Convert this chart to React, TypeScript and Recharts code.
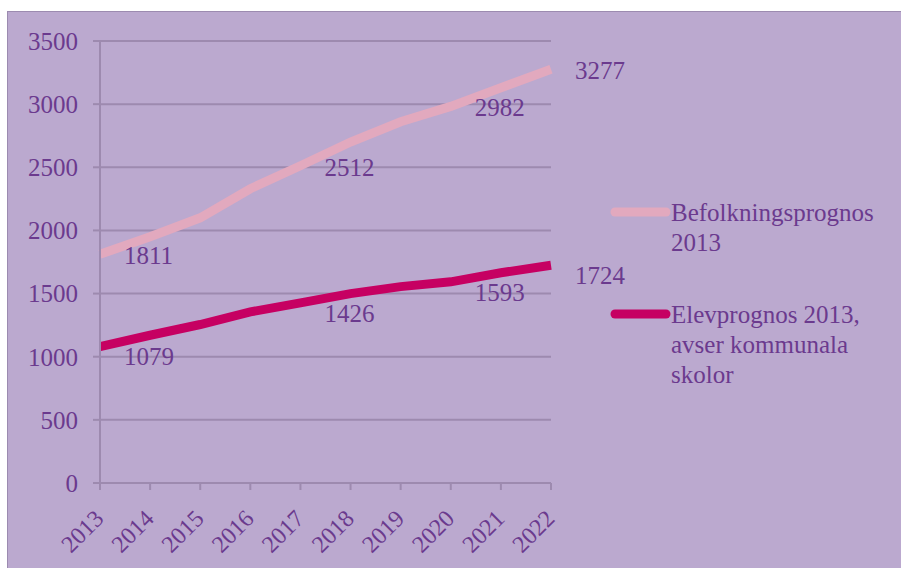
import React from 'react';
import { LineChart, Line, XAxis, YAxis, CartesianGrid } from 'recharts';

const years = ['2013', '2014', '2015', '2016', '2017', '2018', '2019', '2020', '2021', '2022'];
const befolkning = [1811, 1950, 2100, 2330, 2512, 2700, 2860, 2982, 3130, 3277];
const elev = [1079, 1170, 1255, 1355, 1426, 1500, 1555, 1593, 1665, 1724];
const yTicks = [0, 500, 1000, 1500, 2000, 2500, 3000, 3500];
const labelledPoints = [0, 4, 7, 9];
const seriesNames = ['Befolkningsprognos 2013', 'Elevprognos 2013, avser kommunala skolor'];

const FONT = '"Liberation Serif", "Times New Roman", serif';
const TEXT = '#6B3A8E';
const GRID = '#9D8AAF';
const BG = '#BBA9CF';
const COLORS = ['#E2A9BE', '#C60062'];

const data = years.map((year, i) => ({
  year,
  befolkning: befolkning[i],
  elev: elev[i],
}));

const makeDot = (key: string, dy: number) => (props: any) => {
  const { cx, cy, index, payload } = props;
  if (!labelledPoints.includes(index)) return <g key={`${key}-${index}`} />;
  return (
    <text
      key={`${key}-${index}`}
      x={cx + 24}
      y={cy + dy}
      dy="0.35em"
      fill={TEXT}
      fontFamily={FONT}
      fontSize={25}
    >
      {payload[key]}
    </text>
  );
};

const XTick = ({ x, y, payload }: any) => (
  <g transform={`translate(${x},${y})`}>
    <text
      x={5}
      y={28}
      textAnchor="end"
      transform="rotate(-45 5 28)"
      fill={TEXT}
      fontFamily={FONT}
      fontSize={24}
    >
      {payload.value}
    </text>
  </g>
);

export default function App() {
  return (
    <div style={{ position: 'absolute', left: 0, top: 0, width: 901, height: 568, overflow: 'hidden', background: '#fff' }}>
      <div
        style={{
          position: 'absolute',
          left: 7,
          top: 11,
          width: 920,
          height: 600,
          background: BG,
          border: '1.5px solid #9C8BB0',
        }}
      />
      <div style={{ position: 'absolute', left: 0, top: 0 }}>
        <LineChart width={901} height={568} data={data} margin={{ top: 41, right: 350, bottom: 0, left: 0 }}>
          <CartesianGrid vertical={false} stroke={GRID} strokeWidth={2} />
          <XAxis
            dataKey="year"
            interval={0}
            tick={<XTick />}
            tickSize={7}
            height={85}
            axisLine={{ stroke: GRID, strokeWidth: 2 }}
            tickLine={{ stroke: GRID, strokeWidth: 2 }}
          />
          <YAxis
            domain={[0, 3500]}
            ticks={yTicks}
            width={100}
            tickSize={7}
            tickMargin={15}
            tick={{ fill: TEXT, fontFamily: FONT, fontSize: 25 }}
            axisLine={{ stroke: GRID, strokeWidth: 2 }}
            tickLine={{ stroke: GRID, strokeWidth: 2 }}
          />
          <Line
            type="linear"
            dataKey="befolkning"
            name={seriesNames[0]}
            stroke={COLORS[0]}
            strokeWidth={9}
            strokeLinecap="butt"
            dot={makeDot('befolkning', 1)}
            activeDot={false}
            isAnimationActive={false}
          />
          <Line
            type="linear"
            dataKey="elev"
            name={seriesNames[1]}
            stroke={COLORS[1]}
            strokeWidth={9}
            strokeLinecap="butt"
            dot={makeDot('elev', 10)}
            activeDot={false}
            isAnimationActive={false}
          />
        </LineChart>
      </div>
      {seriesNames.map((name, i) => (
        <div
          key={name}
          style={{
            position: 'absolute',
            left: 608,
            top: i === 0 ? 198 : 300,
            display: 'flex',
            alignItems: 'flex-start',
          }}
        >
          <svg width={63} height={30} style={{ flex: 'none' }}>
            <line x1={7} y1={14} x2={58} y2={14} stroke={COLORS[i]} strokeWidth={9} strokeLinecap="round" />
          </svg>
          <div
            style={{
              width: 225,
              color: TEXT,
              fontFamily: FONT,
              fontSize: 25,
              lineHeight: '30px',
            }}
          >
            {name}
          </div>
        </div>
      ))}
    </div>
  );
}
